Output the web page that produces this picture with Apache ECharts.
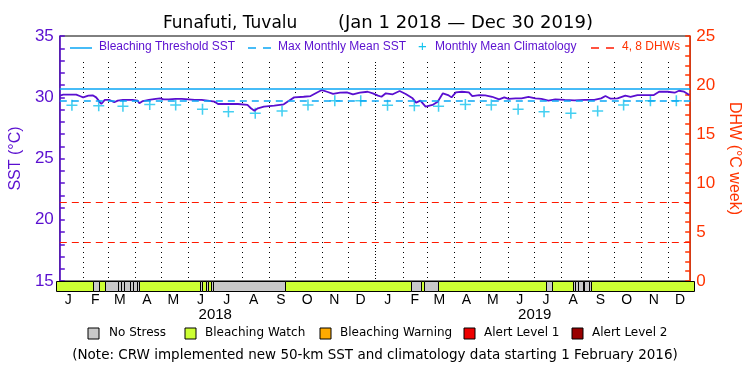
<!DOCTYPE html>
<html lang="en">
<head>
<meta charset="UTF-8">
<script src="https://cdn.jsdelivr.net/npm/echarts@6/dist/echarts.min.js"></script>
<style>html,body{margin:0;padding:0;background:#fff}</style>
</head>
<body>
<div id="chart" style="width:750px;height:375px"></div>
<script>
// SST (deg C)
var sstDates = [
    '2018-01-01','2018-01-05','2018-01-20','2018-01-24','2018-01-28','2018-02-03','2018-02-08','2018-02-12',
    '2018-02-15','2018-02-18','2018-02-22','2018-02-27','2018-03-05','2018-03-09','2018-03-15','2018-03-20',
    '2018-03-26','2018-04-01','2018-04-03','2018-04-07','2018-04-14','2018-04-22','2018-04-27','2018-05-01',
    '2018-05-07','2018-05-15','2018-05-22','2018-05-30','2018-06-06','2018-06-14','2018-06-21','2018-06-29',
    '2018-07-03','2018-07-15','2018-07-26','2018-08-06','2018-08-10','2018-08-14','2018-08-18','2018-08-25',
    '2018-09-06','2018-09-17','2018-09-23','2018-09-29','2018-10-10','2018-10-18','2018-10-25','2018-10-31',
    '2018-11-06','2018-11-13','2018-11-21','2018-11-29','2018-12-06','2018-12-14','2018-12-23','2018-12-29',
    '2019-01-04','2019-01-08','2019-01-13','2019-01-21','2019-01-29','2019-02-05','2019-02-13','2019-02-17',
    '2019-02-22','2019-02-28','2019-03-08','2019-03-14','2019-03-20','2019-03-26','2019-03-30','2019-04-04',
    '2019-04-11','2019-04-19','2019-04-23','2019-05-01','2019-05-08','2019-05-16','2019-05-24','2019-05-30',
    '2019-06-04','2019-06-12','2019-06-19','2019-06-27','2019-07-05','2019-07-12','2019-07-20','2019-07-28',
    '2019-08-08','2019-08-19','2019-08-31','2019-09-11','2019-09-19','2019-09-24','2019-09-30','2019-10-08',
    '2019-10-17','2019-10-23','2019-10-31','2019-11-08','2019-11-19','2019-11-25','2019-12-05','2019-12-13',
    '2019-12-18','2019-12-24','2019-12-30'
];
var sstValues = [
    30.13,30.21,30.21,30.10,29.99,30.13,30.16,29.99,
    29.72,29.45,29.78,29.78,29.59,29.72,29.78,29.78,
    29.78,29.72,29.51,29.69,29.78,29.86,29.91,29.83,
    29.83,29.86,29.86,29.83,29.78,29.78,29.72,29.64,
    29.45,29.45,29.45,29.37,29.10,28.90,29.10,29.23,
    29.31,29.42,29.72,29.99,30.04,30.10,30.37,30.59,
    30.45,30.27,30.37,30.40,30.24,30.37,30.45,30.32,
    30.13,30.04,30.32,30.24,30.51,30.27,29.91,29.56,
    29.72,29.23,29.37,29.64,30.32,30.18,29.99,30.40,
    30.45,30.40,30.10,30.18,30.16,30.04,29.83,29.99,
    29.86,29.91,29.91,30.04,29.91,29.86,29.72,29.83,
    29.78,29.75,29.78,29.78,29.91,30.10,29.88,29.91,
    30.13,30.04,30.18,30.18,30.18,30.45,30.45,30.37,
    30.53,30.45,30.18
];
// monthly mean climatology (Jan..Dec), plotted mid-month each year
var climYears = [2018, 2019];
var climValues = [29.35, 29.30, 29.27, 29.40, 29.36, 29.02, 28.82, 28.70, 28.88, 29.36, 29.71, 29.72];
var mmmValue = 29.73;
var thresholdValue = 30.73;
var dhwLevels = [4, 8];

// alert strip: No Stress periods (end exclusive), Bleaching Watch elsewhere
var noStressPeriods = [
    ['2018-02-12','2018-02-19'],
    ['2018-02-26','2018-03-13'], ['2018-03-13','2018-03-16'], ['2018-03-16','2018-03-20'],
    ['2018-03-20','2018-03-27'], ['2018-03-27','2018-03-30'], ['2018-03-30','2018-04-03'],
    ['2018-04-03','2018-04-06'],
    ['2018-06-14','2018-06-17'], ['2018-06-21','2018-06-24'], ['2018-06-27','2018-06-29'],
    ['2018-06-29','2018-09-20'],
    ['2019-02-11','2019-02-22'], ['2019-02-26','2019-03-14'], ['2019-07-15','2019-07-22'],
    ['2019-08-15','2019-08-17'], ['2019-08-17','2019-08-21'], ['2019-08-21','2019-08-26'],
    ['2019-08-27','2019-09-02'], ['2019-09-02','2019-09-04']
];
var stageNames = ['No Stress', 'Bleaching Watch', 'Bleaching Warning', 'Alert Level 1', 'Alert Level 2'];
var stageColors = ['#c8c8c8', '#ccff33', '#ffaa00', '#ee0000', '#990000'];

var monthLetters = ['J','F','M','A','M','J','J','A','S','O','N','D'];
var yearLabels = ['2018', '2019'];

var purple = '#5a0fd0';
var orange = '#ff3300';
var cyan = '#0aa6f5';
var plusCyan = '#14c3ee';

function t(s) { return +new Date(s + 'T00:00:00'); }
var tMin = t('2018-01-01'), tMax = t('2019-12-31');

var sstData = sstDates.map(function (d, i) { return [t(d), sstValues[i]]; });
var climData = [];
climYears.forEach(function (y) {
    climValues.forEach(function (v, m) { climData.push([+new Date(y, m, 15), v]); });
});

// strip segments
var stripData = [];
var cur = tMin;
noStressPeriods.forEach(function (p) {
    var a = t(p[0]), b = t(p[1]);
    if (a > cur) stripData.push([cur, a, 1]);
    stripData.push([a, b, 0]);
    cur = b;
});
if (cur < tMax) stripData.push([cur, tMax, 1]);

// month boundaries and label positions
var monthStarts = [], monthMids = [], yearMids = [];
climYears.forEach(function (y) {
    for (var m = 0; m < 12; m++) {
        if (!(y === 2018 && m === 0)) monthStarts.push([+new Date(y, m, 1), m === 0 ? 1 : 0]);
        monthMids.push(+new Date(y, m, 15));
    }
    yearMids.push(+new Date(y, 6, 2));
});

var chart = echarts.init(document.getElementById('chart'));
var fontFam = 'Liberation Sans';
var wideFam = 'DejaVu Sans';

var option = {
    animation: false,
    textStyle: { fontFamily: fontFam },
    title: [
        { text: 'Funafuti, Tuvalu', left: 158, top: 10, textStyle: { fontSize: 17, fontWeight: 'normal', color: '#000', fontFamily: wideFam } },
        { text: '(Jan 1 2018 \u2014 Dec 30 2019)', left: 333, top: 9, textStyle: { fontSize: 18, fontWeight: 'normal', color: '#000', fontFamily: wideFam } }
    ],
    grid: [
        { left: 56, right: 56, top: 36, height: 245, show: true, borderColor: '#000', borderWidth: 1, backgroundColor: 'transparent' },
        { left: 56, right: 56, top: 281, height: 10 },
        { left: 56, right: 56, top: 62, height: 219 }
    ],
    xAxis: [
        { type: 'time', gridIndex: 0, min: tMin, max: tMax, show: false },
        {
            type: 'value', gridIndex: 1, min: tMin, max: tMax, position: 'bottom',
            axisLine: { show: false }, axisTick: { show: false }, splitLine: { show: false },
            axisLabel: {
                customValues: monthMids, margin: 2, color: '#000', fontSize: 14,
                formatter: function (v) { return monthLetters[new Date(v).getMonth()]; }
            }
        },
        {
            type: 'value', gridIndex: 1, min: tMin, max: tMax, position: 'bottom', offset: 14,
            axisLine: { show: false }, axisTick: { show: false }, splitLine: { show: false },
            axisLabel: {
                customValues: yearMids, margin: 2, color: '#000', fontSize: 15,
                formatter: function (v) { return yearLabels[new Date(v).getFullYear() - 2018]; }
            }
        },
        { type: 'value', gridIndex: 2, min: tMin, max: tMax, show: false }
    ],
    yAxis: [
        {
            type: 'value', gridIndex: 0, min: 15, max: 35, interval: 5, position: 'left',
            name: 'SST (\u00b0C)', nameLocation: 'middle', nameGap: 31, nameRotate: 90,
            nameTextStyle: { color: purple, fontSize: 16, fontFamily: fontFam },
            axisLine: { show: true, lineStyle: { color: purple, width: 1.5 } },
            axisTick: { show: true, inside: true, length: 5, lineStyle: { color: purple, width: 1.5 } },
            minorTick: { show: true, splitNumber: 5, length: 5, lineStyle: { color: purple, width: 1.5 } },
            axisLabel: { color: purple, fontSize: 17, margin: 6 },
            splitLine: { show: false }
        },
        {
            type: 'value', gridIndex: 0, min: 0, max: 25, interval: 5, position: 'right',
            name: 'DHW (\u00b0C week)', nameLocation: 'middle', nameGap: 24, nameRotate: -90,
            nameTextStyle: { color: orange, fontSize: 16, fontFamily: fontFam },
            axisLine: { show: true, lineStyle: { color: orange, width: 1.5 } },
            axisTick: { show: true, inside: true, length: 5, lineStyle: { color: orange, width: 1.5 } },
            minorTick: { show: true, splitNumber: 5, length: 5, lineStyle: { color: orange, width: 1.5 } },
            axisLabel: { color: orange, fontSize: 17, margin: 6 },
            splitLine: { show: false }
        },
        { type: 'value', gridIndex: 1, min: 0, max: 1, show: false },
        { type: 'value', gridIndex: 2, min: 0, max: 1, show: false }
    ],
    series: [
        {
            name: 'month lines', type: 'custom', xAxisIndex: 3, yAxisIndex: 3, z: 1, silent: true,
            encode: { x: 0 },
            data: monthStarts,
            renderItem: function (params, api) {
                var top = api.coord([api.value(0), 1]);
                var bot = api.coord([api.value(0), 0]);
                var x = Math.round(top[0]) + 0.5;
                return {
                    type: 'line',
                    shape: { x1: x, y1: top[1], x2: x, y2: bot[1] },
                    style: { stroke: '#000', lineWidth: 1, lineDash: api.value(1) ? [1, 2] : [1, 4] }
                };
            }
        },
        {
            name: 'DHW', type: 'line', xAxisIndex: 0, yAxisIndex: 1, z: 2,
            data: [[tMin, -5], [tMax, -5]], showSymbol: false, lineStyle: { opacity: 0 }, silent: true,
            markLine: {
                silent: true, symbol: 'none', label: { show: false },
                lineStyle: { color: '#ff1a00', type: [7, 5], width: 1 },
                data: dhwLevels.map(function (v) { return { yAxis: v }; })
            }
        },
        {
            name: 'Monthly Mean Climatology', type: 'scatter', xAxisIndex: 0, yAxisIndex: 0, z: 3,
            symbol: 'path://M4.3,0h1.4v4.3h4.3v1.4h-4.3v4.3h-1.4v-4.3h-4.3v-1.4h4.3z',
            symbolSize: 11, itemStyle: { color: plusCyan }, data: climData,
            markLine: {
                silent: true, symbol: 'none', label: { show: false },
                data: [
                    { yAxis: thresholdValue, lineStyle: { color: cyan, type: 'solid', width: 1.5 } },
                    { yAxis: mmmValue, lineStyle: { color: cyan, type: [7, 5], width: 1.5 } }
                ]
            }
        },
        {
            name: 'SST', type: 'line', xAxisIndex: 0, yAxisIndex: 0, z: 4,
            data: sstData, showSymbol: false, lineStyle: { color: purple, width: 1.8 }
        },
        {
            name: 'Alert', type: 'custom', xAxisIndex: 1, yAxisIndex: 2, z: 5,
            encode: { x: [0, 1], y: 2 },
            data: stripData,
            renderItem: function (params, api) {
                var p0 = api.coord([api.value(0), 1]);
                var p1 = api.coord([api.value(1), 0]);
                var x0 = Math.round(p0[0]), x1 = Math.round(p1[0]);
                var y0 = Math.round(p0[1]), y1 = Math.round(p1[1]);
                return {
                    type: 'rect',
                    shape: { x: x0 + 0.5, y: y0 + 0.5, width: Math.max(x1 - x0, 1), height: y1 - y0 },
                    style: { fill: stageColors[api.value(2)], stroke: '#000', lineWidth: 1 }
                };
            }
        }
    ],
    graphic: [
        // legend inside plot
        { type: 'line', shape: { x1: 70, y1: 48, x2: 92, y2: 48 }, style: { stroke: cyan, lineWidth: 1.5 } },
        { type: 'text', left: 99, top: 41, style: { text: 'Bleaching Threshold SST', fill: purple, font: '12px ' + fontFam } },
        { type: 'line', shape: { x1: 248, y1: 48, x2: 256, y2: 48 }, style: { stroke: cyan, lineWidth: 1.5 } },
        { type: 'line', shape: { x1: 263, y1: 48, x2: 271, y2: 48 }, style: { stroke: cyan, lineWidth: 1.5 } },
        { type: 'text', left: 278, top: 41, style: { text: 'Max Monthly Mean SST', fill: purple, font: '12px ' + fontFam } },
        { type: 'text', left: 418, top: 39, style: { text: '+', fill: plusCyan, font: '15px ' + fontFam } },
        { type: 'text', left: 435, top: 41, style: { text: 'Monthly Mean Climatology', fill: purple, font: '12px ' + fontFam } },
        { type: 'line', shape: { x1: 591, y1: 48, x2: 599, y2: 48 }, style: { stroke: '#ff1a00', lineWidth: 1.5 } },
        { type: 'line', shape: { x1: 606, y1: 48, x2: 614, y2: 48 }, style: { stroke: '#ff1a00', lineWidth: 1.5 } },
        { type: 'text', left: 622, top: 41, style: { text: '4, 8 DHWs', fill: orange, font: '12px ' + fontFam } },
        // stage legend
        { type: 'rect', shape: { x: 88, y: 328, width: 11, height: 11 }, style: { fill: stageColors[0], stroke: '#000', lineWidth: 1 } },
        { type: 'text', left: 109, top: 327, style: { text: stageNames[0], fill: '#000', font: '12px ' + wideFam } },
        { type: 'rect', shape: { x: 185, y: 328, width: 11, height: 11 }, style: { fill: stageColors[1], stroke: '#000', lineWidth: 1 } },
        { type: 'text', left: 205, top: 327, style: { text: stageNames[1], fill: '#000', font: '12px ' + wideFam } },
        { type: 'rect', shape: { x: 320, y: 328, width: 11, height: 11 }, style: { fill: stageColors[2], stroke: '#000', lineWidth: 1 } },
        { type: 'text', left: 340, top: 327, style: { text: stageNames[2], fill: '#000', font: '12px ' + wideFam } },
        { type: 'rect', shape: { x: 464, y: 328, width: 11, height: 11 }, style: { fill: stageColors[3], stroke: '#000', lineWidth: 1 } },
        { type: 'text', left: 484, top: 327, style: { text: stageNames[3], fill: '#000', font: '12px ' + wideFam } },
        { type: 'rect', shape: { x: 572, y: 328, width: 11, height: 11 }, style: { fill: stageColors[4], stroke: '#000', lineWidth: 1 } },
        { type: 'text', left: 592, top: 327, style: { text: stageNames[4], fill: '#000', font: '12px ' + wideFam } },
        { type: 'text', left: 'center', top: 348, style: { text: '(Note: CRW implemented new 50-km SST and climatology data starting 1 February 2016)', fill: '#000', font: '13.5px ' + wideFam } }
    ]
};
chart.setOption(option);
</script>
</body>
</html>
